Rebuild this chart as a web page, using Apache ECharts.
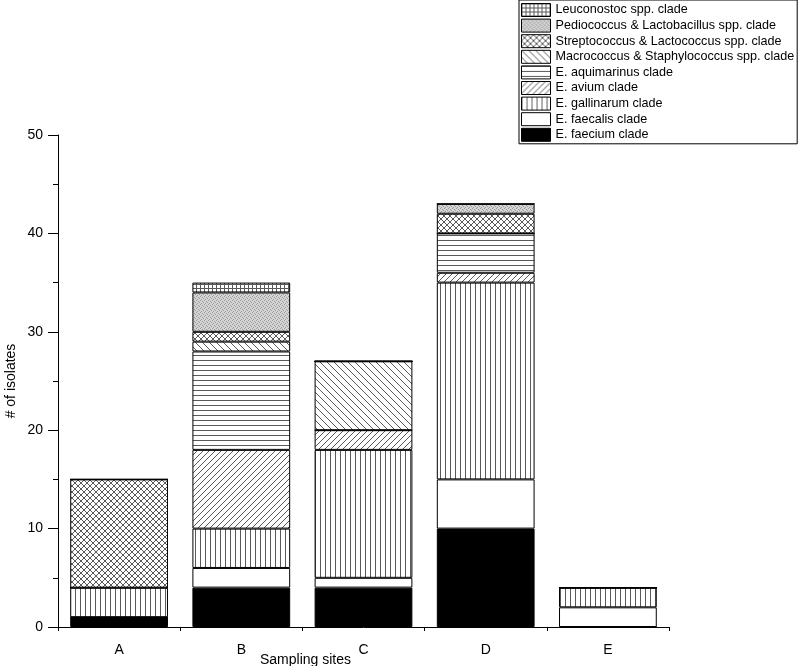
<!DOCTYPE html>
<html>
<head>
<meta charset="utf-8">
<script src="https://cdn.jsdelivr.net/npm/echarts@6/dist/echarts.min.js"></script>
<style>html,body{margin:0;padding:0;background:#fff;}#c{width:800px;height:666px;}</style>
</head>
<body>
<div id="c"></div>
<script>
const categories = ['A', 'B', 'C', 'D', 'E'];
const faecium     = [1, 4, 4, 10, 0];
const faecalis    = [0, 2, 1, 5, 2];
const gallinarum  = [3, 4, 13, 20, 2];
const avium       = [0, 8, 2, 1, 0];
const aquimarinus = [0, 10, 0, 4, 0];
const macro       = [0, 1, 7, 0, 0];
const strepto     = [11, 1, 0, 2, 0];
const pedio       = [0, 4, 0, 1, 0];
const leuco       = [0, 1, 0, 0, 0];
const yTicks = [0, 10, 20, 30, 40, 50];

const FONT = '"Liberation Sans", Arial, sans-serif';

function pat(size, draw, bg) {
  const c = document.createElement('canvas');
  c.width = size; c.height = size;
  const g = c.getContext('2d');
  g.fillStyle = bg || '#fff';
  g.fillRect(0, 0, size, size);
  g.strokeStyle = '#5a5a5a';
  g.lineWidth = 1;
  draw(g, size);
  return { image: c, repeat: 'repeat' };
}
function line(g, x1, y1, x2, y2) { g.beginPath(); g.moveTo(x1, y1); g.lineTo(x2, y2); g.stroke(); }

const pVert = pat(5, (g, s) => line(g, 0.5, 0, 0.5, s));
const pHorz = pat(5, (g, s) => line(g, 0, 0.5, s, 0.5));
const pFwd = pat(6, (g, s) => { line(g, -1, s + 1, s + 1, -1); line(g, -1, 1, 1, -1); line(g, s - 1, s + 1, s + 1, s - 1); });
const pBack = pat(7, (g, s) => { line(g, -1, -1, s + 1, s + 1); line(g, -1, s - 1, 1, s + 1); line(g, s - 1, -1, s + 1, 1); });
const pCross = pat(6, (g, s) => {
  line(g, -1, s + 1, s + 1, -1); line(g, -1, 1, 1, -1); line(g, s - 1, s + 1, s + 1, s - 1);
  line(g, -1, -1, s + 1, s + 1); line(g, -1, s - 1, 1, s + 1); line(g, s - 1, -1, s + 1, 1);
});
const pGrid = pat(4, (g, s) => { line(g, 0.5, 0, 0.5, s); line(g, 0, 0.5, s, 0.5); });
const pStip = pat(4, (g, s) => {
  g.fillStyle = '#9a9a9a';
  g.fillRect(0, 0, 1, 1); g.fillRect(2, 1, 1, 1); g.fillRect(1, 3, 1, 1); g.fillRect(3, 2, 1, 1);
}, '#d4d4d4');

const seriesDefs = [
  ['E. faecium clade', faecium, '#000'],
  ['E. faecalis clade', faecalis, '#fff'],
  ['E. gallinarum clade', gallinarum, pVert],
  ['E. avium clade', avium, pFwd],
  ['E. aquimarinus clade', aquimarinus, pHorz],
  ['Macrococcus & Staphylococcus spp. clade', macro, pBack],
  ['Streptococcus & Lactococcus spp. clade', strepto, pCross],
  ['Pediococcus & Lactobacillus spp. clade', pedio, pStip],
  ['Leuconostoc spp. clade', leuco, pGrid]
];

const series = seriesDefs.map(([name, data, color]) => ({
  name, type: 'bar', stack: 'total', data,
  xAxisIndex: 0, yAxisIndex: 0,
  barWidth: '80%',
  itemStyle: { color, borderColor: '#000', borderWidth: 1 },
  emphasis: { disabled: true },
  animation: false
}));

const chart = echarts.init(document.getElementById('c'), null, { renderer: 'canvas' });
chart.setOption({
  backgroundColor: '#fff',
  animation: false,
  textStyle: { fontFamily: FONT },
  grid: { left: 58, top: 135, right: 131, bottom: 39, containLabel: false, outerBoundsMode: 'none' },
  legend: {
    orient: 'vertical', left: 519, top: 0,
    data: seriesDefs.map(d => d[0]).reverse(),
    icon: 'rect',
    itemWidth: 29, itemHeight: 13, itemGap: 1.6,
    padding: [3, 3, 2, 2],
    borderColor: '#000', borderWidth: 1, backgroundColor: '#fff',
    selectedMode: false,
    itemStyle: { borderColor: '#000', borderWidth: 1 },
    textStyle: { fontSize: 12.6, color: '#000', fontFamily: FONT }
  },
  xAxis: [
    {
      type: 'category', data: categories, position: 'bottom',
      name: 'Sampling sites', nameLocation: 'middle', nameGap: 26, nameMoveOverlap: false,
      nameTextStyle: { fontSize: 14, color: '#000', fontFamily: FONT, padding: [0, 116, 0, 0] },
      axisLine: { lineStyle: { color: '#000', width: 1 } },
      axisTick: { alignWithLabel: true, length: 8, lineStyle: { color: '#000' } },
      axisLabel: { fontSize: 14, color: '#000', margin: 16, fontFamily: FONT },
      splitLine: { show: false }
    },
    {
      type: 'category', data: categories, position: 'bottom', offset: 0, gridIndex: 0,
      axisLine: { show: false },
      axisTick: { show: true, alignWithLabel: false, length: 4, lineStyle: { color: '#000' } },
      axisLabel: { show: false },
      splitLine: { show: false }
    }
  ],
  yAxis: {
    type: 'value', min: yTicks[0], max: yTicks[yTicks.length - 1], interval: 10,
    name: '# of isolates', nameLocation: 'middle', nameGap: 40, nameMoveOverlap: false,
    nameTextStyle: { fontSize: 14, color: '#000', fontFamily: FONT },
    axisLine: { show: true, lineStyle: { color: '#000', width: 1 } },
    axisTick: { show: true, length: 10, lineStyle: { color: '#000' } },
    minorTick: { show: true, splitNumber: 2, length: 5, lineStyle: { color: '#000' } },
    axisLabel: { fontSize: 14, color: '#000', margin: 15, fontFamily: FONT },
    splitLine: { show: false }
  },
  series
});
</script>
</body>
</html>
